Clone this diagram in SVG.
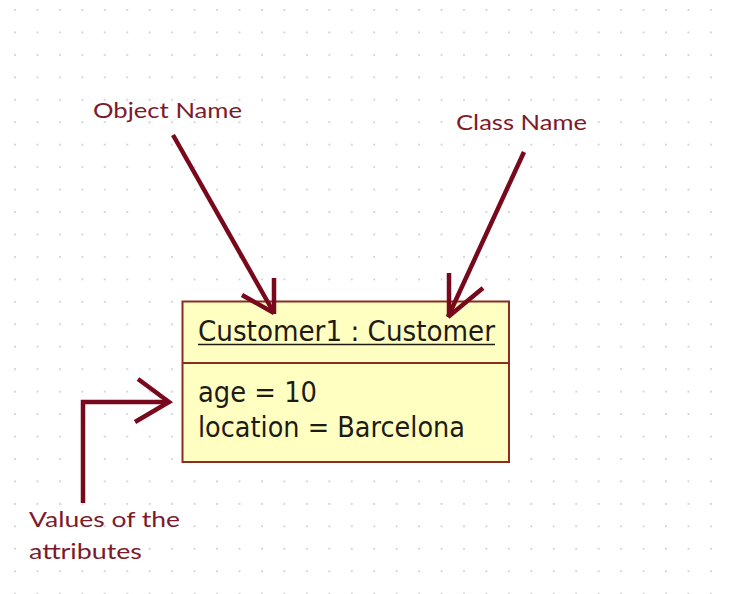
<svg xmlns="http://www.w3.org/2000/svg" width="729" height="594" viewBox="0 0 729 594">
<style>
.lbl{font-family:Lato,"Open Sans","Liberation Sans",sans-serif;font-size:22px;fill:#7d1a2a}
.box{fill:#ffffc2;stroke:#8a2e22;stroke-width:2}
.txt{font-family:"DejaVu Sans","Liberation Sans",sans-serif;font-size:28px;fill:#1e1a14}
.arr{fill:none;stroke:#78091c;stroke-width:4.5;stroke-linecap:butt;stroke-linejoin:miter}
</style>
<defs>
<pattern id="grid" x="14" y="9" width="22.45" height="22.45" patternUnits="userSpaceOnUse">
<circle cx="1" cy="1" r="0.9" fill="#c4c4c4"/>
</pattern>
</defs>
<rect width="729" height="594" fill="#ffffff"/>
<rect width="729" height="594" fill="url(#grid)"/>
<g id="object">
<rect class="box" x="182.5" y="301.5" width="326.5" height="160.5"/>
<line x1="182.5" y1="363" x2="509" y2="363" stroke="#8a2e22" stroke-width="2"/>
<text class="txt" x="198" y="341" textLength="297" lengthAdjust="spacingAndGlyphs">Customer1 : Customer</text>
<line x1="198" y1="344.5" x2="495" y2="344.5" stroke="#1e1a14" stroke-width="1.5"/>
<text class="txt" x="198" y="402" textLength="119" lengthAdjust="spacingAndGlyphs">age = 10</text>
<text class="txt" x="198" y="437" textLength="267" lengthAdjust="spacingAndGlyphs">location = Barcelona</text>
</g>
<g id="label-object-name">
<text class="lbl" x="93" y="118" textLength="149" lengthAdjust="spacingAndGlyphs">Object Name</text>
</g>
<g id="label-class-name">
<text class="lbl" x="456" y="130" textLength="131" lengthAdjust="spacingAndGlyphs">Class Name</text>
</g>
<g id="label-values">
<text class="lbl" x="29" y="527" textLength="151" lengthAdjust="spacingAndGlyphs">Values of the</text>
<text class="lbl" x="29" y="559" textLength="113" lengthAdjust="spacingAndGlyphs">attributes</text>
</g>
<g id="connectors">
<path class="arr" d="M173 135 L274 313"/>
<path class="arr" d="M274 278 L274 314 M242 295 L274 313"/>
<path class="arr" d="M524 152 L448 317"/>
<path class="arr" d="M449 273 L449 317 M483 288 L448 317"/>
<path class="arr" d="M83 503 L83 402 L168 402"/>
<path class="arr" d="M138 379 L169 402 L135 422"/>
</g>
</svg>
